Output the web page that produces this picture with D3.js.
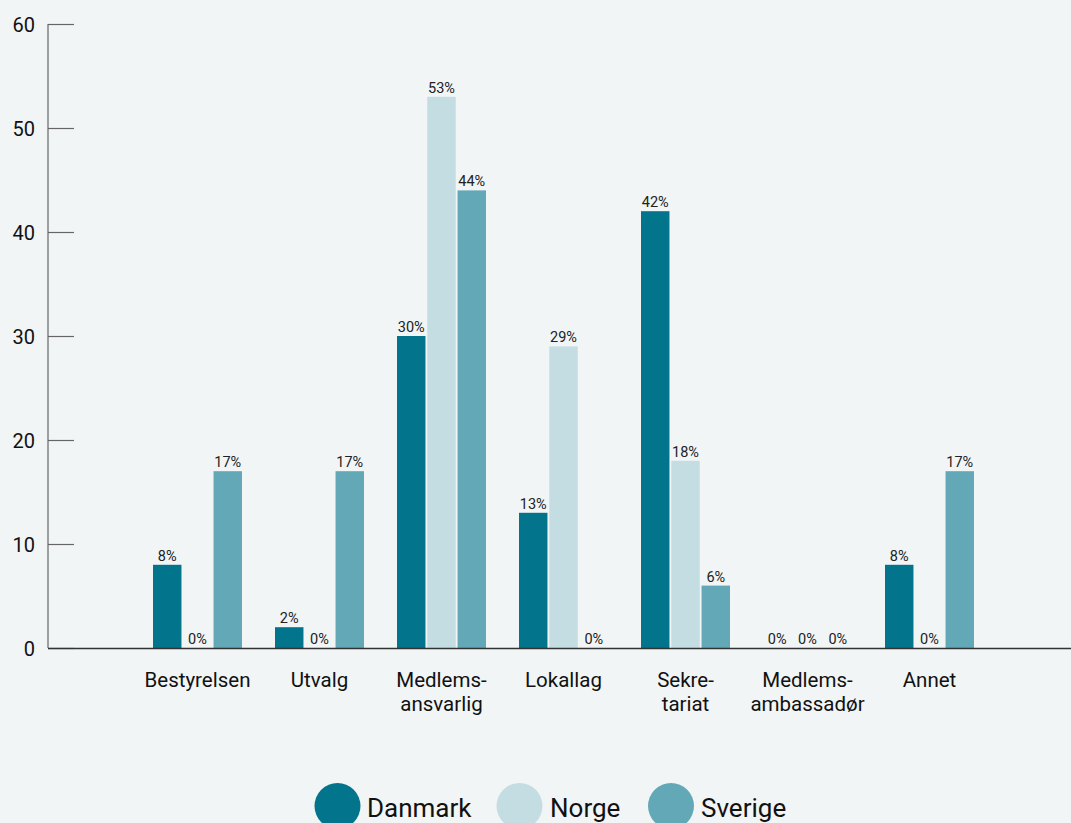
<!DOCTYPE html>
<html>
<head>
<meta charset="utf-8">
<script src="https://cdn.jsdelivr.net/npm/d3@7"></script>
<style>
  html, body { margin: 0; padding: 0; background: #f1f5f6; }
  svg { display: block; font-family: Roboto, "Noto Sans", sans-serif; }
</style>
</head>
<body>
<svg id="chart" width="1071" height="823"></svg>
<script>
// Roles reported per country (percent of respondents)
const categories = ["Bestyrelsen", "Utvalg", "Medlems-\nansvarlig", "Lokallag", "Sekre-\ntariat", "Medlems-\nambassadør", "Annet"];
const seriesNames = ["Danmark", "Norge", "Sverige"];
const danmark = [8, 2, 30, 13, 42, 0, 8];
const norge   = [0, 0, 53, 29, 18, 0, 0];
const sverige = [17, 17, 44, 0, 6, 0, 17];
const yTicks = [0, 10, 20, 30, 40, 50, 60];
const colors = ["#02748b", "#c3dde3", "#62a8b7"];

const seriesValues = [danmark, norge, sverige];
const rows = categories.map((c, i) => ({
  category: c,
  values: seriesNames.map((s, j) => ({ series: s, value: seriesValues[j][i] }))
}));

const svg = d3.select("#chart");

const axisX = 48, baseY = 648, topY = 24;

const y = d3.scaleLinear().domain([0, 60]).range([baseY, topY]);
const x0 = d3.scaleBand().domain(categories).range([136.5, 990.5]).paddingInner(0).paddingOuter(0);
const x1 = d3.scaleBand().domain(seriesNames).range([-44.5, 44.5]).paddingInner(0.06);
const color = d3.scaleOrdinal().domain(seriesNames).range(colors);

// Y axis with inward ticks
const yAxis = svg.append("g")
  .attr("transform", `translate(${axisX},0)`)
  .call(d3.axisLeft(y).tickValues(yTicks).tickSize(-26).tickPadding(40));
yAxis.select(".domain").remove();
yAxis.selectAll(".tick line").attr("stroke", "#666").attr("stroke-width", 1.2);
yAxis.selectAll(".tick text")
  .attr("font-size", 20)
  .attr("fill", "#111")
  .attr("font-family", "Roboto, sans-serif")
  .attr("x", -13)
  .attr("dy", "0.36em");
svg.append("line")
  .attr("x1", axisX).attr("x2", axisX)
  .attr("y1", y(60)).attr("y2", baseY)
  .attr("stroke", "#666").attr("stroke-width", 1.2);

// Bars
const groups = svg.append("g").selectAll("g")
  .data(rows)
  .join("g")
  .attr("transform", d => `translate(${x0(d.category) + x0.bandwidth() / 2},0)`);

groups.selectAll("rect")
  .data(d => d.values)
  .join("rect")
  .attr("x", d => x1(d.series))
  .attr("width", x1.bandwidth())
  .attr("y", d => y(d.value))
  .attr("height", d => baseY - y(d.value))
  .attr("fill", d => color(d.series));

groups.selectAll("text.val")
  .data(d => d.values)
  .join("text")
  .attr("class", "val")
  .attr("x", d => x1(d.series) + x1.bandwidth() / 2)
  .attr("y", d => y(d.value) - 4)
  .attr("text-anchor", "middle")
  .attr("font-size", 14.5)
  .attr("fill", "#222")
  .text(d => `${d.value}%`);

// X baseline
svg.append("line")
  .attr("x1", axisX).attr("x2", 1071)
  .attr("y1", baseY + 0.5).attr("y2", baseY + 0.5)
  .attr("stroke", "#333").attr("stroke-width", 1.3);

// Category labels, one text element per line
const labelLines = categories.flatMap(c =>
  c.split("\n").map((line, i) => ({ category: c, line, i }))
);
svg.append("g").selectAll("text")
  .data(labelLines)
  .join("text")
  .attr("x", d => x0(d.category) + x0.bandwidth() / 2)
  .attr("y", d => 687 + d.i * 24)
  .attr("text-anchor", "middle")
  .attr("font-size", 20.5)
  .attr("fill", "#111")
  .text(d => d.line);

// Legend
const legendItems = [
  { name: "Danmark", cx: 337.5, tx: 367 },
  { name: "Norge", cx: 519.5, tx: 550 },
  { name: "Sverige", cx: 671, tx: 701 }
];
const legend = svg.append("g");
legend.selectAll("circle")
  .data(legendItems)
  .join("circle")
  .attr("cx", d => d.cx)
  .attr("cy", 806)
  .attr("r", 23)
  .attr("fill", d => color(d.name));
legend.selectAll("text")
  .data(legendItems)
  .join("text")
  .attr("x", d => d.tx)
  .attr("y", 817)
  .attr("font-size", 26)
  .attr("fill", "#111")
  .text(d => d.name);
</script>
</body>
</html>
